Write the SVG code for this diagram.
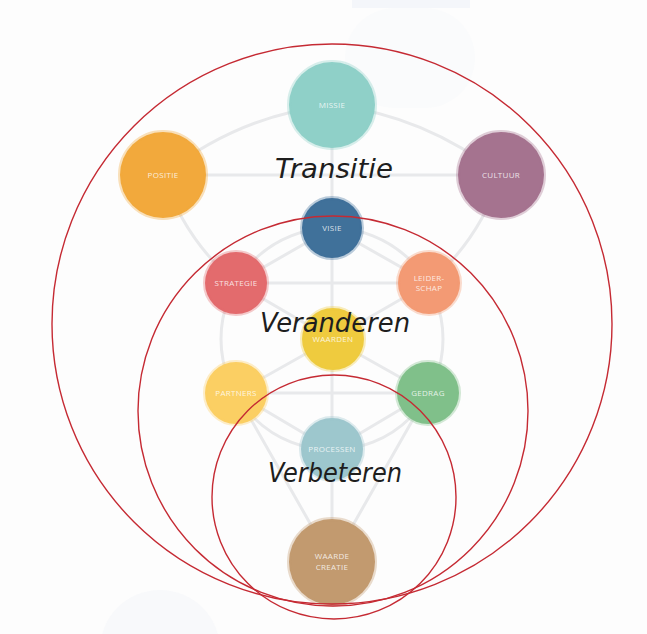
<svg xmlns="http://www.w3.org/2000/svg" width="647" height="634" viewBox="0 0 647 634">
<style>
.bg{fill:#f4f6fa}
.con{fill:none;stroke:#e8e9eb;stroke-width:3;stroke-linecap:round}
.node{stroke-width:4;stroke-opacity:0.35}
.lbl{font-family:"Open Sans","Liberation Sans",sans-serif;font-size:8px;fill:#ffffff;fill-opacity:0.8;text-anchor:middle;letter-spacing:0.3px}
.ring{fill:none;stroke:#c52a33;stroke-width:1.4}
.hand{font-family:"DejaVu Sans",sans-serif;font-style:italic;font-size:26px;fill:#1e1e1e;text-anchor:middle}
</style>
<rect width="647" height="634" fill="#fdfdfd"/>
<g id="background">
<rect class="bg" x="352" y="0" width="118" height="8"/>
<rect x="345" y="8" width="130" height="100" rx="50" fill="#fafbfc"/>
<circle cx="160" cy="650" r="60" fill="#f8f9fb"/>
</g>
<g id="connectors">
<circle class="con" cx="332" cy="339" r="111"/>
<path class="con" d="M332,105 V562"/>
<path class="con" d="M163,175 H501"/>
<path class="con" d="M236,283 H429"/>
<path class="con" d="M236,393 H428"/>
<path class="con" d="M332,105 Q240,115 163,175 M332,105 Q424,115 501,175"/>
<path class="con" d="M332,228 L236,283 M332,228 L429,283"/>
<path class="con" d="M332,339 L236,283 M332,339 L429,283 M332,339 L236,393 M332,339 L428,393"/>
<path class="con" d="M236,393 L332,450 M428,393 L332,450"/>
<path class="con" d="M236,393 L332,562 M428,393 L332,562"/>
<path class="con" d="M163,175 Q185,240 236,283 M501,175 Q479,240 429,283"/>
</g>
<g id="n-missie"><circle class="node" cx="332" cy="105" r="43" fill="#8fd0c8" stroke="#8fd0c8"/><text class="lbl" x="332" y="108">MISSIE</text></g>
<g id="n-positie"><circle class="node" cx="163" cy="175" r="43" fill="#f2a93c" stroke="#f2a93c"/><text class="lbl" x="163" y="178">POSITIE</text></g>
<g id="n-cultuur"><circle class="node" cx="501" cy="175" r="43" fill="#a5738f" stroke="#a5738f"/><text class="lbl" x="501" y="178">CULTUUR</text></g>
<g id="n-visie"><circle class="node" cx="332" cy="228" r="30" fill="#40719a" stroke="#40719a"/><text class="lbl" x="332" y="231">VISIE</text></g>
<g id="n-strategie"><circle class="node" cx="236" cy="283" r="31" fill="#e36b6d" stroke="#e36b6d"/><text class="lbl" x="236" y="286">STRATEGIE</text></g>
<g id="n-leiderschap"><circle class="node" cx="429" cy="283" r="31" fill="#f39a74" stroke="#f39a74"/><text class="lbl" x="429" y="281">LEIDER-</text><text class="lbl" x="429" y="291">SCHAP</text></g>
<g id="n-waarden"><circle class="node" cx="333" cy="339" r="31" fill="#efcb3e" stroke="#efcb3e"/><text class="lbl" x="333" y="342">WAARDEN</text></g>
<g id="n-partners"><circle class="node" cx="236" cy="393" r="31" fill="#fbcf63" stroke="#fbcf63"/><text class="lbl" x="236" y="396">PARTNERS</text></g>
<g id="n-gedrag"><circle class="node" cx="428" cy="393" r="31" fill="#80c08a" stroke="#80c08a"/><text class="lbl" x="428" y="396">GEDRAG</text></g>
<g id="n-processen"><circle class="node" cx="332" cy="449" r="31" fill="#9dc7cd" stroke="#9dc7cd"/><text class="lbl" x="332" y="452">PROCESSEN</text></g>
<g id="n-waardecreatie"><circle class="node" cx="332" cy="562" r="43" fill="#c29a6f" stroke="#c29a6f"/><text class="lbl" x="332" y="559">WAARDE</text><text class="lbl" x="332" y="570">CREATIE</text></g>
<g id="rings">
<circle class="ring" cx="332" cy="324" r="280"/>
<circle class="ring" cx="333" cy="411" r="195"/>
<circle class="ring" cx="334" cy="497" r="122"/>
</g>
<g id="labels">
<text class="hand" x="334" y="178" textLength="118" lengthAdjust="spacingAndGlyphs">Transitie</text>
<text class="hand" x="335" y="332" textLength="150" lengthAdjust="spacingAndGlyphs">Veranderen</text>
<text class="hand" x="335" y="482" textLength="134" lengthAdjust="spacingAndGlyphs">Verbeteren</text>
</g>
</svg>
